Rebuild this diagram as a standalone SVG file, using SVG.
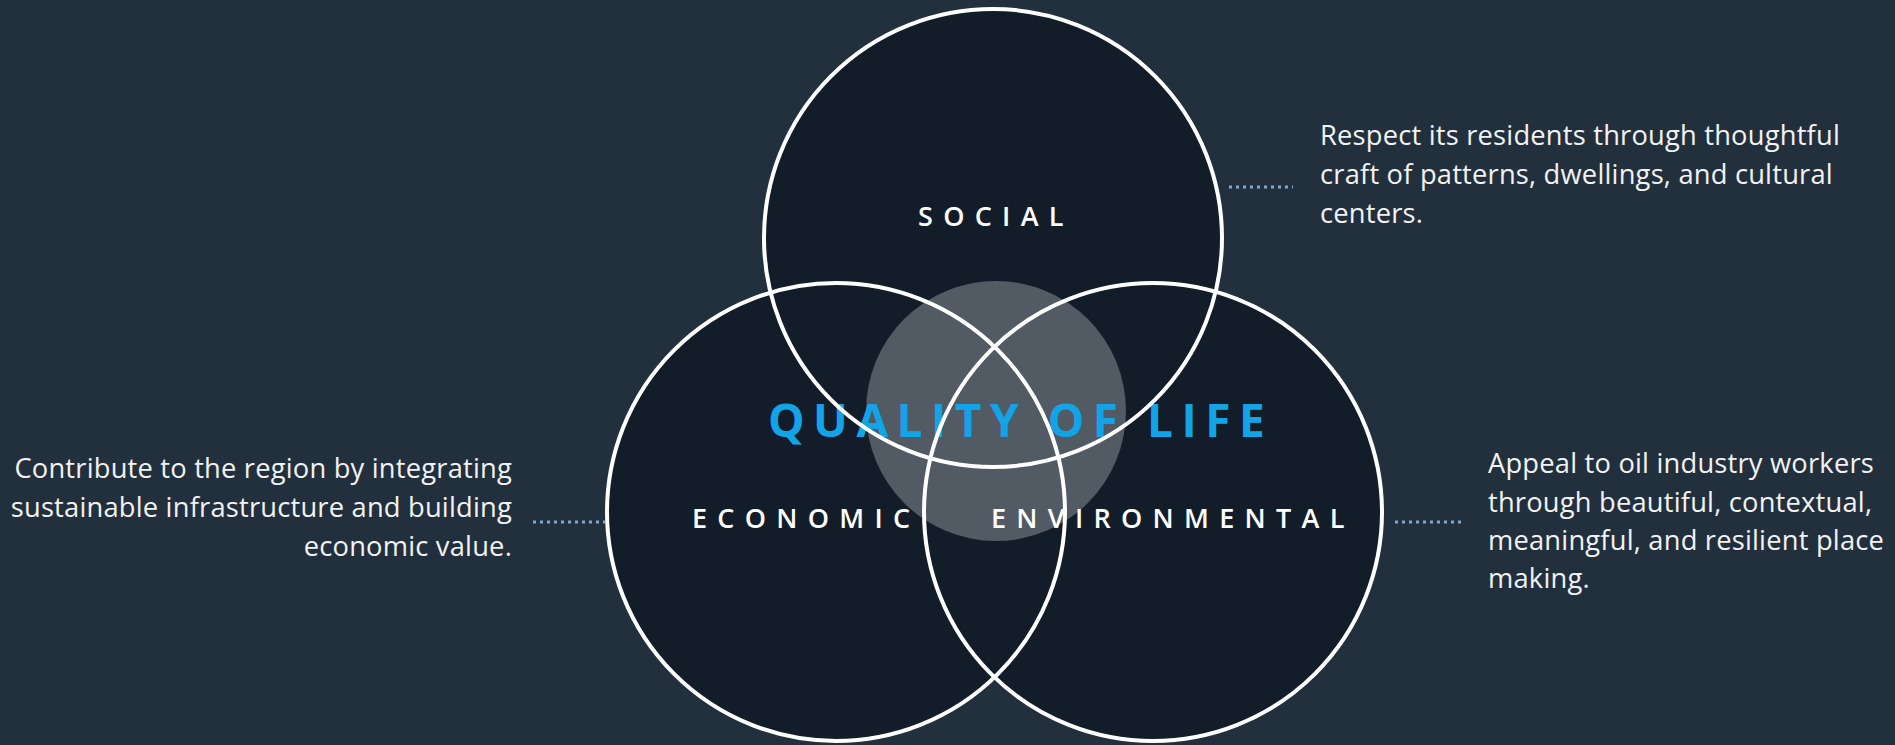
<svg xmlns="http://www.w3.org/2000/svg" width="1895" height="745" viewBox="0 0 1895 745">
<style>
.bg{fill:#22303d}
.disc{fill:#131d2a}
.ring{fill:none;stroke:#ffffff;stroke-width:4}
.core{fill:#ffffff;fill-opacity:0.27}
.label{font-family:"Open Sans","Liberation Sans",sans-serif;font-weight:600;font-size:27px;fill:#ffffff;letter-spacing:10.3px}
.title{font-family:"Open Sans","Liberation Sans",sans-serif;font-weight:700;font-size:46px;fill:#12a4e6;letter-spacing:8.5px}
.desc{font-family:"Open Sans","Liberation Sans",sans-serif;font-size:27.3px;fill:#f2f2f2;letter-spacing:0.2px}
.dots{stroke:#7fa6cf;stroke-width:3;stroke-dasharray:3 4;fill:none}
</style>
<rect class="bg" x="0" y="0" width="1895" height="745"/>
<g id="social">
<circle class="disc" cx="993" cy="238" r="229"/>
<text class="label" x="918" y="226">SOCIAL</text>
</g>
<g id="economic">
<circle class="disc" cx="836" cy="512" r="229"/>
<text class="label" x="692" y="528">ECONOMIC</text>
</g>
<g id="environmental">
<circle class="disc" cx="1153" cy="512" r="229"/>
<text class="label" x="991" y="528">ENVIRONMENTAL</text>
</g>
<g id="quality-of-life">
<circle class="core" cx="996" cy="411" r="130"/>
<text class="title" x="768" y="437">QUALITY OF LIFE</text>
</g>
<g id="outlines">
<circle class="ring" cx="993" cy="238" r="229"/>
<circle class="ring" cx="836" cy="512" r="229"/>
<circle class="ring" cx="1153" cy="512" r="229"/>
</g>
<g id="connectors">
<line class="dots" x1="1229" y1="187" x2="1293" y2="187"/>
<line class="dots" x1="533" y1="522" x2="605" y2="522"/>
<line class="dots" x1="1395" y1="522" x2="1465" y2="522"/>
</g>
<g id="social-note">
<text class="desc" x="1320" y="145">Respect its residents through thoughtful</text>
<text class="desc" x="1320" y="184">craft of patterns, dwellings, and cultural</text>
<text class="desc" x="1320" y="223">centers.</text>
</g>
<g id="economic-note" text-anchor="end">
<text class="desc" x="512" y="478">Contribute to the region by integrating</text>
<text class="desc" x="512" y="517">sustainable infrastructure and building</text>
<text class="desc" x="512" y="556">economic value.</text>
</g>
<g id="environmental-note">
<text class="desc" x="1488" y="473">Appeal to oil industry workers</text>
<text class="desc" x="1488" y="512">through beautiful, contextual,</text>
<text class="desc" x="1488" y="550">meaningful, and resilient place</text>
<text class="desc" x="1488" y="588">making.</text>
</g>
</svg>
